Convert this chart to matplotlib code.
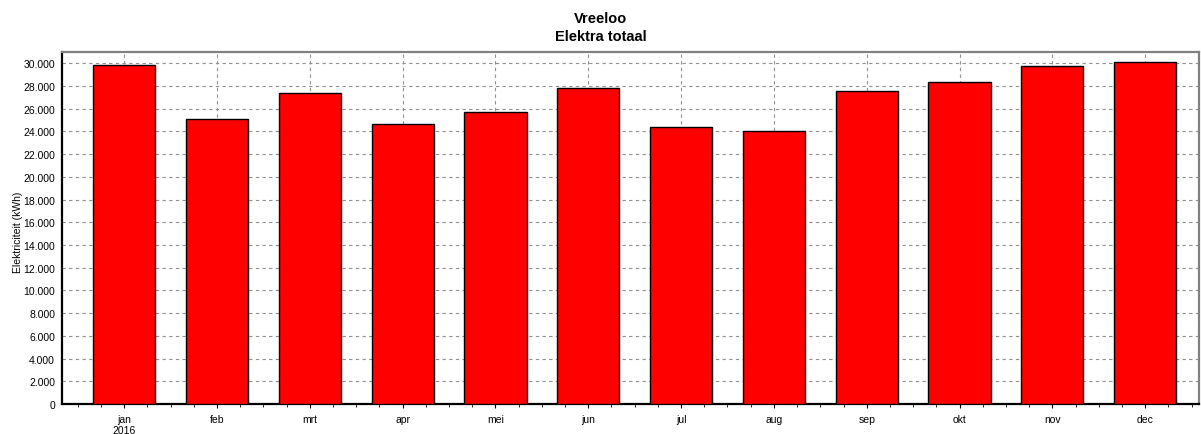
import matplotlib.pyplot as plt
from matplotlib.ticker import FuncFormatter, MultipleLocator

# monthly electricity use, Vreeloo 2016
months = ["jan\n2016", "feb", "mrt", "apr", "mei", "jun", "jul", "aug", "sep", "okt", "nov", "dec"]
kwh = [29850, 25080, 27370, 24640, 25700, 27800, 24380, 24030, 27540, 28330, 29760, 30090]

plt.rcParams["font.family"] = ["Liberation Sans", "DejaVu Sans"]

fig = plt.figure(figsize=(12.01, 4.35), dpi=100)
ax = fig.add_axes([62 / 1201, 30 / 435, 1137 / 1201, 352 / 435])

x = range(len(months))
ax.bar(x, kwh, width=0.67, color="#ff0000", edgecolor="black", linewidth=1, zorder=3)

ax.set_xlim(-0.67, 11.58)
ax.set_ylim(0, 31000)
ax.set_xticks(list(x))
ax.set_xticklabels(months, fontsize=7.5)
ax.xaxis.set_minor_locator(MultipleLocator(0.25))
ax.yaxis.set_major_locator(MultipleLocator(2000))
ax.yaxis.set_major_formatter(FuncFormatter(lambda v, p: f"{int(v):,}".replace(",", ".")))
ax.tick_params(axis="y", labelsize=7.5, length=0, pad=5)
ax.tick_params(axis="x", length=3, pad=4)
ax.tick_params(axis="x", which="minor", length=2)

ax.grid(True, which="major", linestyle=(0, (3, 3)), color="#909090", linewidth=0.8, zorder=0)

for side in ["left", "bottom"]:
    ax.spines[side].set_linewidth(1.6)
    ax.spines[side].set_color("black")
for side in ["top", "right"]:
    ax.spines[side].set_linewidth(1.6)
    ax.spines[side].set_color("#808080")

ax.set_ylabel("Elektriciteit (kWh)", fontsize=7.5)
ax.yaxis.set_label_coords(-0.034, 0.49)
fig.suptitle("Vreeloo\nElektra totaal", fontsize=10.5, fontweight="bold", y=0.972, linespacing=1.35)

fig.savefig("out.png", dpi=100)
